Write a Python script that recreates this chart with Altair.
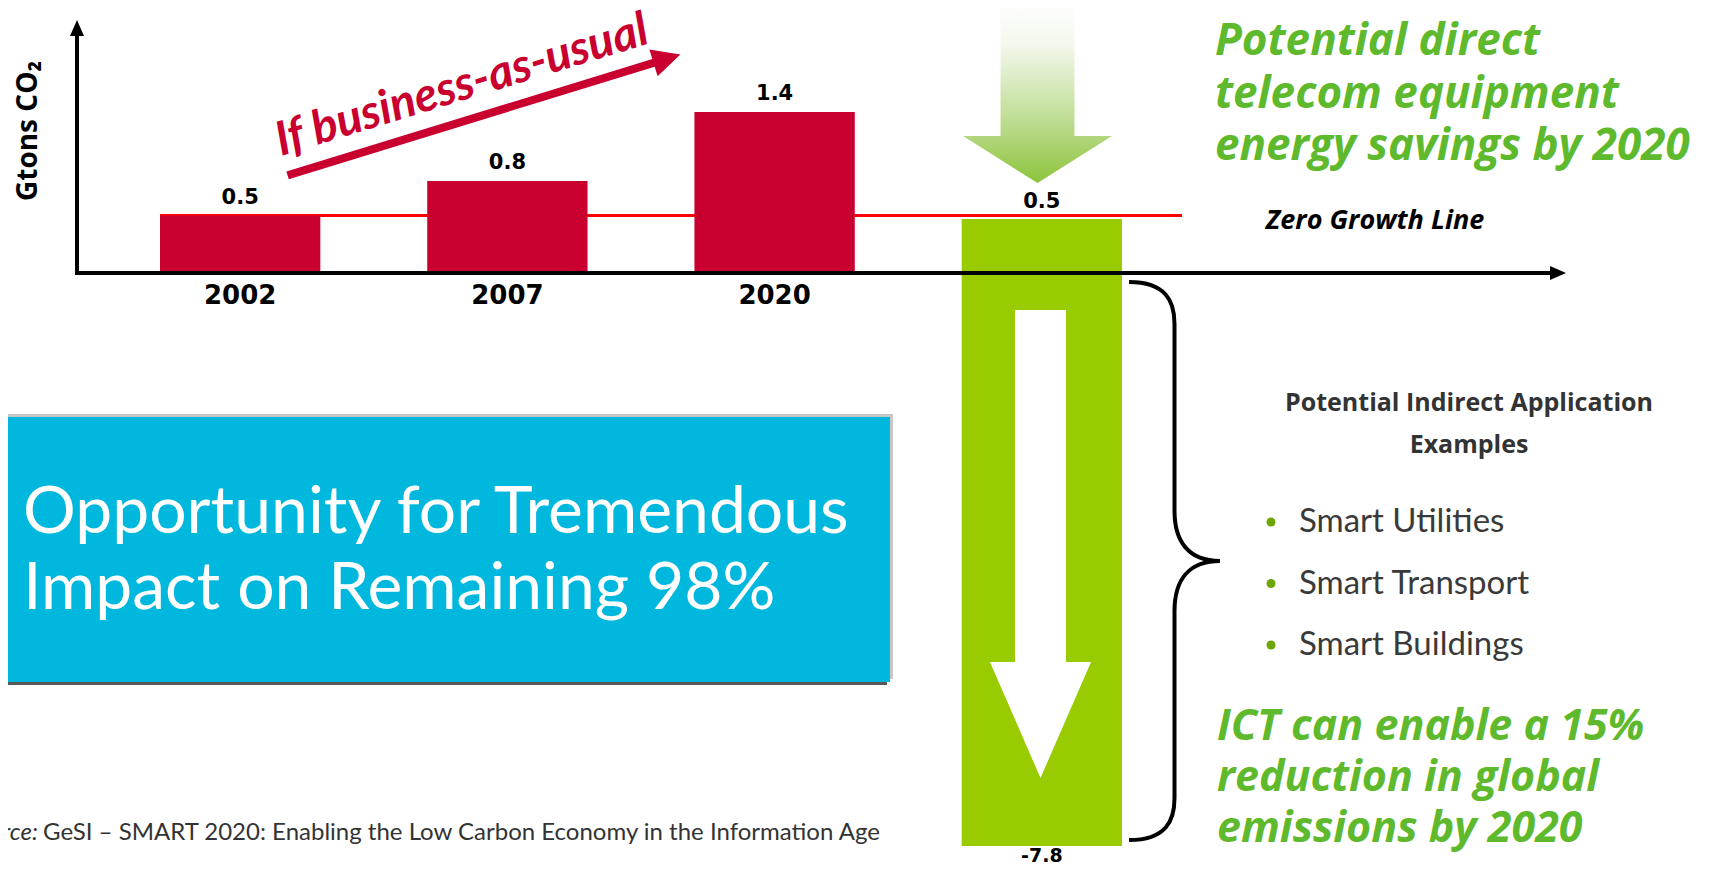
import altair as alt
import pandas as pd

# ---------------- data ----------------
categories = ["2002", "2007", "2020", "2020 ICT savings"]
bau_years = ["2002", "2007", "2020"]
bau_values = [0.5, 0.8, 1.4]
zero_growth_level = 0.5
savings_category = "2020 ICT savings"
savings_top = 0.5
savings_bottom = -7.8

y_axis_title = "Gtons CO₂"
bau_label = "If business-as-usual"
zero_growth_label = "Zero Growth Line"
direct_lines = ["Potential direct", "telecom equipment", "energy savings by 2020"]
indirect_heading = ["Potential Indirect Application", "Examples"]
indirect_examples = ["Smart Utilities", "Smart Transport", "Smart Buildings"]
ict_lines = ["ICT can enable a 15%", "reduction in global", "emissions by 2020"]
box_lines = ["Opportunity for Tremendous", "Impact on Remaining 98%"]
source_prefix = "Source:"
source_text = "GeSI – SMART 2020: Enabling the Low Carbon Economy in the Information Age"

# ---------------- styling ----------------
W, H = 1695, 860
FONT = "Lato"
FONT_W = "Open Sans"
FONT_NUM = "DejaVu Sans"
RED = "#C9002F"
GREEN_BAR = "#99CC00"
GREEN_TEXT = "#5EB92C"
BULLET = "#6DA600"
CYAN = "#00B8DE"
DARK = "#333333"


def px(v):
    """page pixel -> plot pixel (page has an 8px margin)"""
    return v - 8


one = alt.Chart(pd.DataFrame({"k": [0]}))

bau_df = pd.DataFrame({"cat": bau_years, "value": bau_values})
bau_df["label"] = [f"{v:.1f}" for v in bau_values]
sav_df = pd.DataFrame({"cat": [savings_category], "top": [savings_top], "bottom": [savings_bottom],
                       "top_label": [f"{savings_top:.1f}"], "bottom_label": [f"{savings_bottom:.1f}"]})
zero_df = pd.DataFrame({"level": [zero_growth_level]})
ex_df = pd.DataFrame({"item": indirect_examples})

scale_x = alt.Scale(domain=categories, range=[px(160), px(1122)], paddingInner=0.4, paddingOuter=0)
scale_a = alt.Scale(domain=[0, 1.5], range=[px(273), px(273) - 1.5 * 115])
scale_b = alt.Scale(domain=[savings_bottom, savings_top], range=[px(846), px(219)])
scale_items = alt.Scale(type="point", domain=indirect_examples, range=[px(522), px(645)], padding=0)


def text_layer(lines, x, y, size, color, weight="normal", style="normal", align="left",
               line_height=None, angle=None, baseline="middle", font=FONT):
    kw = dict(text=lines, align=align, baseline=baseline, fontSize=size, color=color,
              fontWeight=weight, fontStyle=style, font=font)
    if line_height:
        kw["lineHeight"] = line_height
    if angle is not None:
        kw["angle"] = angle
    return one.mark_text(**kw).encode(x=alt.value(px(x)), y=alt.value(px(y)))


def rect(x1, x2, y1, y2, color):
    return one.mark_rect(color=color).encode(
        x=alt.value(px(x1)), x2=alt.value(px(x2)), y=alt.value(px(y1)), y2=alt.value(px(y2)))


def symbol(path, cx, cy, side, fill=None, stroke=None, stroke_width=0, angle=None):
    kw = dict(shape=path, size=side * side, opacity=1)
    if fill is not None:
        kw.update(filled=True, fill=fill, strokeWidth=0)
    else:
        kw.update(filled=False, stroke=stroke, strokeWidth=stroke_width, fill="transparent")
    if angle is not None:
        kw["angle"] = angle
    return one.mark_point(**kw).encode(x=alt.value(px(cx)), y=alt.value(px(cy)))


# ---------------- layers ----------------
zero_line = alt.Chart(zero_df).mark_rule(color="#FF0000", strokeWidth=3).encode(
    y=alt.Y("level:Q", scale=scale_a, axis=None),
    x=alt.value(px(160)), x2=alt.value(px(1182)))

bau_bars = alt.Chart(bau_df).mark_bar(color=RED).encode(
    x=alt.X("cat:N", scale=scale_x, axis=None),
    y=alt.Y("value:Q", scale=scale_a, axis=None),
    y2=alt.datum(0))

bau_labels = alt.Chart(bau_df).mark_text(
    baseline="bottom", dy=-8, fontSize=21, fontWeight="bold", font=FONT_NUM, color="black").encode(
    x=alt.X("cat:N", scale=scale_x, axis=None),
    y=alt.Y("value:Q", scale=scale_a, axis=None),
    text="label:N")

year_labels = alt.Chart(bau_df).mark_text(
    baseline="middle", fontSize=26, fontWeight="bold", font=FONT_NUM, color="black").encode(
    x=alt.X("cat:N", scale=scale_x, axis=None),
    y=alt.value(px(296)),
    text="cat:N")

sav_bar = alt.Chart(sav_df).mark_bar(color=GREEN_BAR).encode(
    x=alt.X("cat:N", scale=scale_x, axis=None),
    y=alt.Y("top:Q", scale=scale_b, axis=None),
    y2="bottom:Q")

sav_top_label = alt.Chart(sav_df).mark_text(
    baseline="bottom", dy=-7, fontSize=21, fontWeight="bold", font=FONT_NUM, color="black").encode(
    x=alt.X("cat:N", scale=scale_x, axis=None),
    y=alt.Y("top:Q", scale=scale_b, axis=None),
    text="top_label:N")

sav_bottom_label = alt.Chart(sav_df).mark_text(
    baseline="top", dy=1, fontSize=19, fontWeight="bold", font=FONT_NUM, color="black").encode(
    x=alt.X("cat:N", scale=scale_x, axis=None),
    y=alt.Y("bottom:Q", scale=scale_b, axis=None),
    text="bottom_label:N")

# arrows / shapes
white_arrow = symbol("M -0.109 -1 L 0.109 -1 L 0.109 0.504 L 0.216 0.504 L 0 1 L -0.216 0.504 L -0.109 0.504 Z",
                     1040.5, 544, 468, fill="white")

green_grad = alt.Gradient(gradient="linear", x1=0, x2=0, y1=0, y2=1, stops=[
    alt.GradientStop(offset=0, color="#FFFFFF"),
    alt.GradientStop(offset=0.25, color="#F3F8EC"),
    alt.GradientStop(offset=0.74, color="#B3D77F"),
    alt.GradientStop(offset=1, color="#8CC43B")])
green_arrow = symbol("M -0.404 -1 L 0.404 -1 L 0.404 0.486 L 0.814 0.486 L 0 1 L -0.814 0.486 L -0.404 0.486 Z",
                     1037.5, 91.5, 183, fill=green_grad)

red_arrow = symbol("M -1 -0.0195 L 0.863 -0.0195 L 0.863 -0.068 L 1 0 L 0.863 0.068 L 0.863 0.0195 L -1 0.0195 Z",
                   484, 115, 411, fill=RED, angle=342.9)

brace = symbol("M -0.163 -1 C -0.03 -1 0 -0.93 0 -0.85 L 0 -0.18 C 0 -0.07 0.05 0 0.163 0 "
               "C 0.05 0 0 0.07 0 0.18 L 0 0.85 C 0 0.93 -0.03 1 -0.163 1",
               1174.5, 561, 558, stroke="black", stroke_width=4)

x_axis = one.mark_rule(color="black", strokeWidth=4).encode(
    x=alt.value(px(75)), x2=alt.value(px(1552)), y=alt.value(px(273)))
y_axis = one.mark_rule(color="black", strokeWidth=4).encode(
    x=alt.value(px(77)), y=alt.value(px(34)), y2=alt.value(px(275)))
x_head = symbol("M -1 -0.875 L 1 0 L -1 0.875 Z", 1558, 273, 16, fill="black")
y_head = symbol("M -0.875 1 L 0 -1 L 0.875 1 Z", 77, 28, 16, fill="black")

# cyan box with frame
box = [
    rect(0, 893, 414, 679, "#C8C8C8"),
    rect(0, 887, 679, 685, "#595959"),
    rect(0, 890, 417, 682, CYAN),
    text_layer(box_lines, 23, 513, 66, "white", line_height=76),
]

bullets = alt.Chart(ex_df).mark_circle(color=BULLET, size=80, opacity=1).encode(
    x=alt.value(px(1271)),
    y=alt.Y("item:N", scale=scale_items, axis=None))
bullet_text = alt.Chart(ex_df).mark_text(
    align="left", baseline="middle", fontSize=33, font=FONT, color="#3A3A3A").encode(
    x=alt.value(px(1299)),
    y=alt.Y("item:N", scale=scale_items, axis=None),
    text="item:N")

texts = [
    text_layer(y_axis_title, 29, 131, 28, "black", weight="bold", align="center", angle=270, font=FONT_W),
    text_layer(bau_label, 462, 86, 47, RED, weight="bold", style="italic", align="center", angle=343),
    text_layer(zero_growth_label, 1375, 221, 27, "black", weight="bold", style="italic", align="center",
               font=FONT_W),
    text_layer(direct_lines, 1215, 42, 44, GREEN_TEXT, weight="bold", style="italic", line_height=52.5,
               font=FONT_W),
    text_layer(indirect_heading, 1469, 403, 25, DARK, weight="bold", align="center", line_height=42,
               font=FONT_W),
    text_layer(ict_lines, 1217, 727, 43, GREEN_TEXT, weight="bold", style="italic", line_height=51,
               font=FONT_W),
    text_layer(source_prefix, 38, 833, 24, DARK, style="italic", align="right"),
    text_layer(source_text, 43, 833, 24, DARK),
]

chart = alt.layer(
    zero_line, bau_bars, sav_bar, white_arrow, green_arrow,
    x_axis, y_axis, x_head, y_head,
    bau_labels, year_labels, sav_top_label, sav_bottom_label,
    red_arrow, brace, *box, bullets, bullet_text, *texts,
).resolve_scale(y="independent").properties(
    width=W, height=H, padding=0, autosize="none", background="white"
).configure_view(stroke=None)

chart.save("out.html", embed_options={"renderer": "svg", "actions": False})
